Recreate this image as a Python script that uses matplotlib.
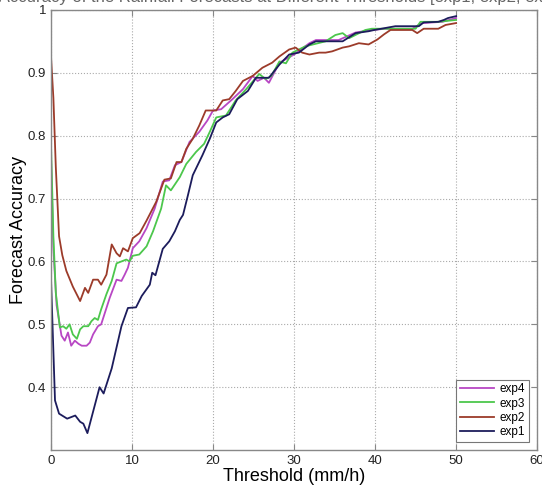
import matplotlib
matplotlib.use("Agg")
import matplotlib.pyplot as plt

plt.rcParams['font.family'] = ['Liberation Sans', 'DejaVu Sans']

# values (threshold in mm/h, accuracy)
exp1_x = [0, 0.5, 1, 2, 3, 3.6, 4, 4.5, 6, 6.5, 7.5, 8.7, 9.5, 10.5, 11.2, 12.2, 12.5, 12.9,
          13.8, 14.6, 15.3, 15.9, 16.3, 16.9, 17.5, 18.7, 19.6, 20.4, 21.2, 22, 23, 24.3, 25.3,
          26.9, 28.2, 29.4, 30.6, 31.9, 32.7, 36, 37.6, 39.2, 39.9, 42.5, 45.4, 46, 47.8, 48.5,
          49, 50]
exp1_y = [0.575, 0.379, 0.358, 0.350, 0.355, 0.345, 0.342, 0.327, 0.40, 0.39, 0.43, 0.497,
          0.526, 0.527, 0.545, 0.563, 0.582, 0.578, 0.62, 0.632, 0.648, 0.666, 0.674, 0.705,
          0.737, 0.769, 0.795, 0.821, 0.829, 0.834, 0.858, 0.871, 0.892, 0.892, 0.913, 0.929,
          0.932, 0.945, 0.95, 0.95, 0.963, 0.966, 0.968, 0.974, 0.974, 0.98, 0.981, 0.984,
          0.987, 0.99]

exp2_x = [0, 0.3, 0.6, 1.0, 1.4, 1.9, 2.7, 3.6, 4.2, 4.6, 5.2, 5.8, 6.2, 6.85, 7.5, 8.1, 8.5,
          8.9, 9.5, 10.1, 10.95, 11.8, 13, 14, 14.8, 15.5, 16.1, 16.7, 17.5, 18.3, 19.1, 20.4,
          21.2, 22, 22.8, 23.7, 24.9, 26.1, 27.3, 28.2, 29.4, 30.2, 31, 31.9, 33.1, 33.9, 34.7,
          36, 36.8, 38, 39.2, 40.3, 41.1, 41.9, 44.6, 45.2, 46, 47.8, 48.7, 50]
exp2_y = [0.927, 0.86, 0.75, 0.64, 0.61, 0.585, 0.56, 0.537, 0.558, 0.55, 0.571, 0.571,
          0.563, 0.579, 0.627, 0.613, 0.608, 0.621, 0.616, 0.637, 0.645, 0.665, 0.695, 0.73,
          0.732, 0.758, 0.758, 0.779, 0.795, 0.816, 0.84, 0.84, 0.856, 0.858, 0.871, 0.887,
          0.895, 0.908, 0.916, 0.926, 0.937, 0.94, 0.932, 0.929, 0.932, 0.932, 0.934, 0.94,
          0.942, 0.947, 0.945, 0.953, 0.961, 0.968, 0.968, 0.963, 0.97, 0.97, 0.976, 0.979]

exp3_x = [0, 0.3, 0.6, 1.1, 1.5, 1.9, 2.3, 2.7, 3.2, 3.6, 4.0, 4.6, 5.0, 5.4, 5.8, 6.2, 6.85,
          7.5, 8.1, 8.7, 9.3, 9.7, 10.1, 10.9, 11.8, 12.6, 13.6, 14.2, 14.8, 15.9, 16.7, 17.9,
          18.9, 19.6, 20.4, 21.6, 22.8, 24.1, 25.7, 26.5, 27.2, 28.2, 29, 29.8, 31.4, 33.9,
          35.1, 36, 36.8, 38.8, 39.6, 45, 45.6, 47.8, 50]
exp3_y = [0.79, 0.64, 0.55, 0.495, 0.497, 0.493, 0.50, 0.484, 0.477, 0.492, 0.497, 0.497,
          0.505, 0.51, 0.507, 0.524, 0.548, 0.569, 0.597, 0.60, 0.603, 0.60, 0.609, 0.611,
          0.624, 0.648, 0.684, 0.721, 0.713, 0.734, 0.755, 0.774, 0.787, 0.806, 0.829, 0.832,
          0.856, 0.874, 0.898, 0.89, 0.895, 0.918, 0.915, 0.932, 0.942, 0.95, 0.96, 0.963,
          0.955, 0.968, 0.97, 0.97, 0.981, 0.981, 0.984]

exp4_x = [0, 0.3, 0.7, 1.3, 1.7, 2.1, 2.5, 2.95, 3.4, 3.8, 4.4, 4.8, 5.2, 5.8, 6.2, 6.6, 7.25,
          8.1, 8.7, 9.1, 9.5, 10.1, 10.9, 11.8, 12.8, 13.8, 14.6, 15.3, 16.1, 17.1, 18.3, 19.3,
          20, 21, 22.4, 23.7, 24.9, 25.5, 26.3, 26.9, 28.2, 30, 31.9, 32.7, 35.5, 37.6, 39.6,
          41.3, 44.6, 45.8, 48.3, 50]
exp4_y = [0.77, 0.62, 0.53, 0.482, 0.474, 0.487, 0.466, 0.474, 0.469, 0.466, 0.466, 0.471,
          0.484, 0.497, 0.50, 0.516, 0.542, 0.571, 0.569, 0.579, 0.59, 0.621, 0.632, 0.653,
          0.684, 0.727, 0.729, 0.753, 0.758, 0.79, 0.806, 0.824, 0.84, 0.842, 0.858, 0.874,
          0.895, 0.887, 0.892, 0.884, 0.916, 0.929, 0.947, 0.952, 0.952, 0.964, 0.968, 0.97,
          0.97, 0.979, 0.981, 0.987]

fig = plt.figure(figsize=(5.42, 4.93), dpi=100)
ax = fig.add_axes([0.094, 0.087, 0.897, 0.893])

# title of the original is cut off at the top edge, only its lower part shows
fig.text(0.5, 0.995, 'Forecast Accuracy of the Rainfall Forecasts at Different Thresholds [exp1, exp2, exp3, exp4]',
         ha='center', va='baseline', fontsize=12, color='#666666')

ax.plot(exp4_x, exp4_y, color='#b847c4', lw=1.3, label='exp4')
ax.plot(exp3_x, exp3_y, color='#4cc74c', lw=1.3, label='exp3')
ax.plot(exp2_x, exp2_y, color='#9c3b2a', lw=1.3, label='exp2')
ax.plot(exp1_x, exp1_y, color='#1c1c5c', lw=1.3, label='exp1')

ax.set_xlim(0, 60)
ax.set_ylim(0.3, 1)
ax.set_xticks([0, 10, 20, 30, 40, 50, 60])
ax.set_yticks([0.4, 0.5, 0.6, 0.7, 0.8, 0.9, 1])
ax.set_yticklabels(['0.4', '0.5', '0.6', '0.7', '0.8', '0.9', '1'])
ax.grid(True, linestyle=':', color='#aaaaaa', lw=0.8)
ax.tick_params(direction='in', length=4, top=True, right=True, labelsize=9.5,
               color='#888888', labelcolor='#222222')
for s in ax.spines.values():
    s.set_color('#888888')
    s.set_linewidth(1.0)

ax.set_xlabel('Threshold (mm/h)', fontsize=13, labelpad=1)
ax.set_ylabel('Forecast Accuracy', fontsize=13, labelpad=0.5)

leg = ax.legend(loc='lower right', fontsize=8.5, fancybox=False, framealpha=1,
                edgecolor='#777777', handlelength=2.9, handletextpad=0.5,
                borderaxespad=0.7, labelspacing=0.2, borderpad=0.3)
leg.get_frame().set_linewidth(0.8)

fig.savefig('out.png', dpi=100)
